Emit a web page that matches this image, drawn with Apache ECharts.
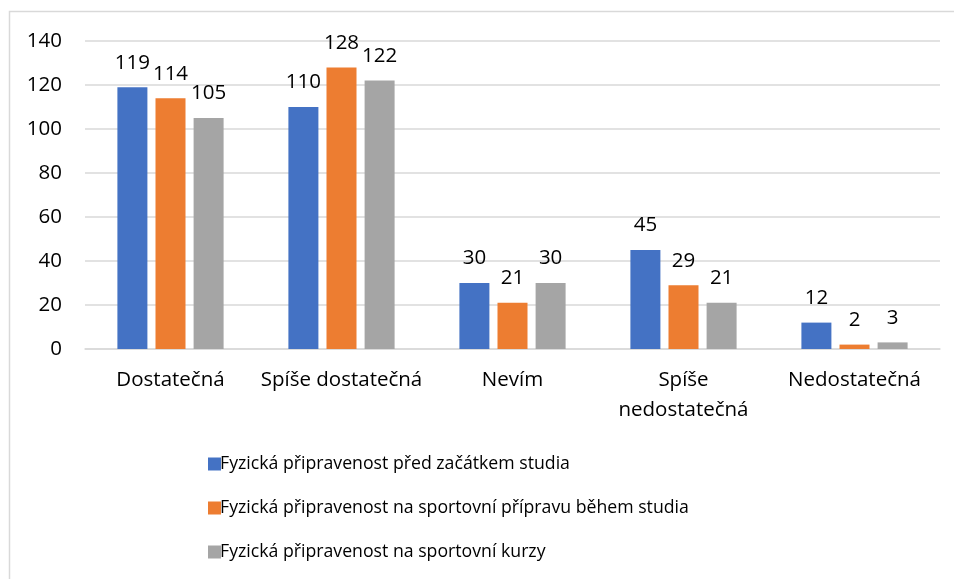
<!DOCTYPE html>
<html>
<head>
<meta charset="utf-8">
<script src="https://cdn.jsdelivr.net/npm/echarts@6/dist/echarts.min.js"></script>
<style>
html,body{margin:0;padding:0;background:#fff;}
#chart{width:954px;height:579px;}
</style>
</head>
<body>
<div id="chart"></div>
<script>
// kategorie a hodnoty
var categories = ['Dostatečná', 'Spíše dostatečná', 'Nevím', 'Spíše\nnedostatečná', 'Nedostatečná'];
var seriesNames = [
    'Fyzická připravenost před začátkem studia',
    'Fyzická připravenost na sportovní přípravu během studia',
    'Fyzická připravenost na sportovní kurzy'
];
var before = [119, 110, 30, 45, 12];
var during = [114, 128, 21, 29, 2];
var courses = [105, 122, 30, 21, 3];
var colors = ['#4472C4', '#ED7D31', '#A5A5A5'];

var font = '"Open Sans", "Noto Sans", sans-serif';

function makeSeries(name, data, color) {
    return {
        name: name,
        type: 'bar',
        data: data,
        barWidth: 30,
        barGap: '27%',
        itemStyle: { color: color },
        label: {
            show: true,
            position: 'top',
            distance: 14,
            color: '#000',
            fontSize: 20.5,
            fontFamily: font
        }
    };
}

var chart = echarts.init(document.getElementById('chart'));
var option = {
    backgroundColor: '#fff',
    animation: false,
    graphic: [{
        type: 'rect',
        shape: { x: 9.5, y: 11.5, width: 960, height: 600 },
        style: { fill: 'none', stroke: '#d9d9d9', lineWidth: 1.5 }
    }],
    grid: {
        left: 85,
        right: 14,
        top: 41,
        bottom: 230
    },
    legend: {
        orient: 'vertical',
        left: 203,
        top: 450,
        itemWidth: 13,
        itemHeight: 13,
        itemGap: 26,
        icon: 'rect',
        textStyle: { color: '#000', fontSize: 17.7, fontFamily: font, padding: [0, 0, 0, -6] },
        data: seriesNames
    },
    xAxis: {
        type: 'category',
        data: categories,
        axisLine: { lineStyle: { color: '#d9d9d9', width: 1.5 } },
        axisTick: { show: false },
        axisLabel: { color: '#000', fontSize: 20.5, fontFamily: font, margin: 16, lineHeight: 30, interval: 0 }
    },
    yAxis: {
        type: 'value',
        min: 0,
        max: 140,
        interval: 20,
        axisLine: { show: false },
        axisTick: { show: false },
        splitLine: { lineStyle: { color: '#d9d9d9', width: 1.5 } },
        axisLabel: { color: '#000', fontSize: 20.5, fontFamily: font, margin: 23 }
    },
    series: [
        makeSeries(seriesNames[0], before, colors[0]),
        makeSeries(seriesNames[1], during, colors[1]),
        makeSeries(seriesNames[2], courses, colors[2])
    ]
};
chart.setOption(option);
</script>
</body>
</html>
